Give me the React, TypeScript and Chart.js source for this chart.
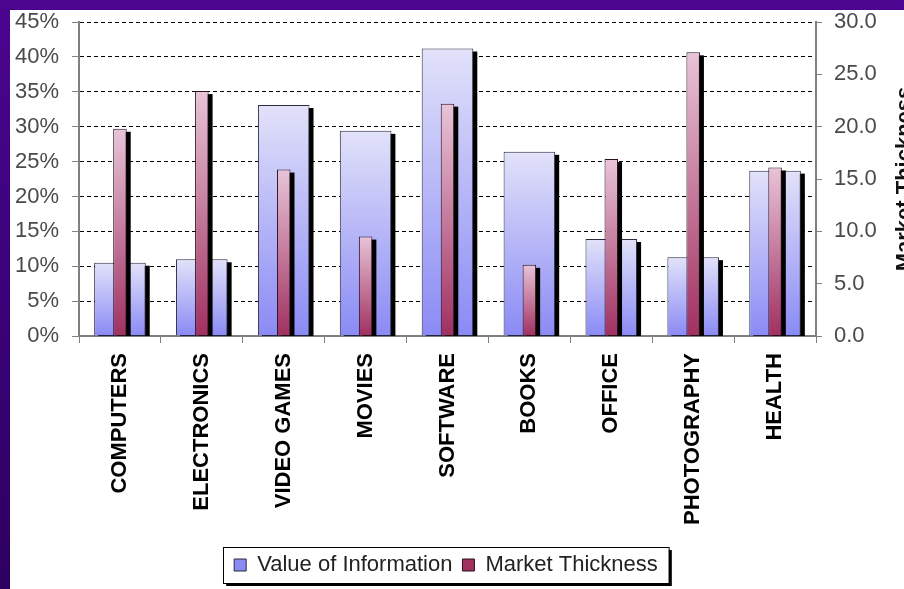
import React, { useEffect, useRef } from "react";
import { Chart, registerables } from "chart.js";

Chart.register(...registerables);

// Categories along the x axis
const categories = [
  "COMPUTERS",
  "ELECTRONICS",
  "VIDEO GAMES",
  "MOVIES",
  "SOFTWARE",
  "BOOKS",
  "OFFICE",
  "PHOTOGRAPHY",
  "HEALTH",
];

// Value of Information, in percent (left axis)
const valueOfInformation = [10.5, 11.0, 33.1, 29.4, 41.2, 26.4, 13.9, 11.3, 23.7];

// Market Thickness (right axis)
const marketThickness = [19.8, 23.4, 15.9, 9.5, 22.2, 6.8, 16.9, 27.1, 16.1];

// Axis ranges
const percentMax = 45;
const percentStep = 5;
const thicknessMax = 30;
const thicknessStep = 5;

const FONT = "'Liberation Sans', Arial, sans-serif";

const CANVAS_W = 894;
const CANVAS_H = 579;

// Vertical gradient spanning a single bar, from its top down to the baseline
function barGradient(top: string, bottom: string, solid: string) {
  return (c: any) => {
    if (c.type !== "data") return solid;
    const chart = c.chart;
    const scale = chart.scales[c.dataset.yAxisID];
    if (!chart.chartArea || !scale) return solid;
    const y0 = scale.getPixelForValue(c.raw);
    const y1 = scale.getPixelForValue(0);
    if (!isFinite(y0) || !isFinite(y1) || y1 - y0 < 1) return solid;
    const g = chart.ctx.createLinearGradient(0, y0, 0, y1);
    g.addColorStop(0, top);
    g.addColorStop(1, bottom);
    return g;
  };
}

// Solid black drop shadow behind every bar, clipped to the plot area
const barShadow = {
  id: "barShadow",
  beforeDatasetDraw(chart: any, args: any) {
    const { ctx, chartArea } = chart;
    ctx.save();
    ctx.beginPath();
    ctx.rect(chartArea.left, 0, chartArea.right - chartArea.left + 10, chartArea.bottom);
    ctx.clip();
    ctx.fillStyle = "#000";
    args.meta.data.forEach((bar: any) => {
      const { x, y, base, width } = bar.getProps(["x", "y", "base", "width"], true);
      ctx.fillRect(x - width / 2 + 4, y + 3, width, base - y);
    });
    ctx.restore();
  },
};

// Nudge the legend block a little left of the canvas centre
const legendShift = {
  id: "legendShift",
  afterLayout(chart: any) {
    const lg = chart.legend;
    if (!lg) return;
    lg.left -= 11;
    lg.right -= 11;
  },
};

// Framed box with a drop shadow behind the legend entries
const legendFrame = {
  id: "legendFrame",
  beforeDraw(chart: any) {
    const lg = chart.legend;
    if (!lg || !lg.legendHitBoxes || !lg.legendHitBoxes.length) return;
    const hb = lg.legendHitBoxes;
    const l = Math.min(...hb.map((b: any) => b.left)) - 11;
    const r = Math.max(...hb.map((b: any) => b.left + b.width)) + 11;
    const t = Math.min(...hb.map((b: any) => b.top)) - 7;
    const bt = Math.max(...hb.map((b: any) => b.top + b.height)) + 7;
    const ctx = chart.ctx;
    ctx.save();
    ctx.fillStyle = "#000";
    ctx.fillRect(l + 3, t + 3, r - l, bt - t);
    ctx.fillStyle = "#fff";
    ctx.fillRect(l, t, r - l, bt - t);
    ctx.strokeStyle = "#000";
    ctx.lineWidth = 1;
    ctx.strokeRect(Math.round(l) + 0.5, Math.round(t) + 0.5, r - l, bt - t);
    ctx.restore();
  },
};

// Right axis title, reading bottom to top at the far right edge
const rightTitle = {
  id: "rightTitle",
  afterDraw(chart: any) {
    const { ctx, chartArea } = chart;
    ctx.save();
    ctx.translate(chart.width - 9, (chartArea.top + chartArea.bottom) / 2);
    ctx.rotate(-Math.PI / 2);
    ctx.font = `bold 22px ${FONT}`;
    ctx.fillStyle = "#111";
    ctx.textAlign = "center";
    ctx.textBaseline = "alphabetic";
    ctx.fillText("Market Thickness", 0, 16);
    ctx.restore();
  },
};

// Keep the vertical axes from reserving extra room above the top tick
const fitVertical = (width: number) => (s: any) => {
  s.width = width;
  s.paddingTop = 12;
  s.paddingBottom = 0;
};

export default function App() {
  const ref = useRef<HTMLCanvasElement | null>(null);

  useEffect(() => {
    if (!ref.current) return;
    const chart = new Chart(ref.current, {
      type: "bar",
      data: {
        labels: categories,
        datasets: [
          {
            label: "Value of Information",
            data: valueOfInformation,
            yAxisID: "y",
            order: 1,
            grouped: false,
            categoryPercentage: 1,
            barPercentage: 0.63,
            backgroundColor: barGradient("#e2e2fa", "#8a8af5", "#9a9af5"),
            borderColor: "#2a2a40",
            borderWidth: 1,
          },
          {
            label: "Market Thickness",
            data: marketThickness,
            yAxisID: "y1",
            order: 0,
            grouped: false,
            categoryPercentage: 1,
            barPercentage: 0.165,
            backgroundColor: barGradient("#e8c4d8", "#a03060", "#9c3a64"),
            borderColor: "#2a1020",
            borderWidth: 1,
          },
        ],
      },
      options: {
        responsive: false,
        animation: false,
        devicePixelRatio: 1,
        layout: { padding: { top: 0, bottom: 3, left: 0, right: 0 } },
        plugins: {
          tooltip: { enabled: false },
          legend: {
            position: "bottom",
            labels: {
              font: { family: FONT, size: 22 },
              color: "#222",
              boxWidth: 12,
              boxHeight: 12,
              padding: 10,
              sort: (a: any, b: any) => a.datasetIndex - b.datasetIndex,
            },
          },
        },
        scales: {
          x: {
            offset: true,
            afterFit: (s: any) => {
              s.height = 208;
            },
            grid: {
              offset: true,
              drawOnChartArea: false,
              drawTicks: true,
              tickLength: 7,
              tickColor: "#808080",
              color: "#808080",
            },
            border: { color: "#808080", width: 2 },
            ticks: {
              autoSkip: false,
              minRotation: 90,
              maxRotation: 90,
              padding: 10,
              color: "#000",
              font: { family: FONT, size: 22, weight: "bold" },
            },
          },
          y: {
            position: "left",
            min: 0,
            max: percentMax,
            afterFit: fitVertical(69),
            grid: {
              color: "#000",
              lineWidth: 1,
              tickLength: 7,
              tickColor: "#808080",
              tickBorderDash: [],
            },
            border: { color: "#808080", width: 2, dash: [4, 3] },
            ticks: {
              stepSize: percentStep,
              padding: 13,
              color: "#4a4a4a",
              font: { family: FONT, size: 22 },
              callback: (v: any) => `${v}%`,
            },
          },
          y1: {
            position: "right",
            min: 0,
            max: thicknessMax,
            afterFit: fitVertical(88),
            grid: {
              drawOnChartArea: false,
              tickLength: 6,
              tickColor: "#808080",
              color: "#808080",
            },
            border: { color: "#808080", width: 2 },
            ticks: {
              stepSize: thicknessStep,
              padding: 12,
              color: "#4a4a4a",
              font: { family: FONT, size: 22 },
              callback: (v: any) => Number(v).toFixed(1),
            },
          },
        },
      },
      plugins: [barShadow, legendShift, legendFrame, rightTitle],
    });
    return () => chart.destroy();
  }, []);

  return (
    <div
      style={{
        position: "fixed",
        left: 0,
        top: 0,
        width: 904,
        height: 589,
        background: "linear-gradient(180deg, #4b0590 0%, #3a0278 50%, #2e0060 100%)",
        overflow: "hidden",
      }}
    >
      <div
        style={{
          position: "absolute",
          left: 10,
          top: 10,
          width: CANVAS_W,
          height: CANVAS_H,
          background: "#fff",
        }}
      >
        <canvas ref={ref} width={CANVAS_W} height={CANVAS_H} style={{ display: "block" }} />
      </div>
    </div>
  );
}
